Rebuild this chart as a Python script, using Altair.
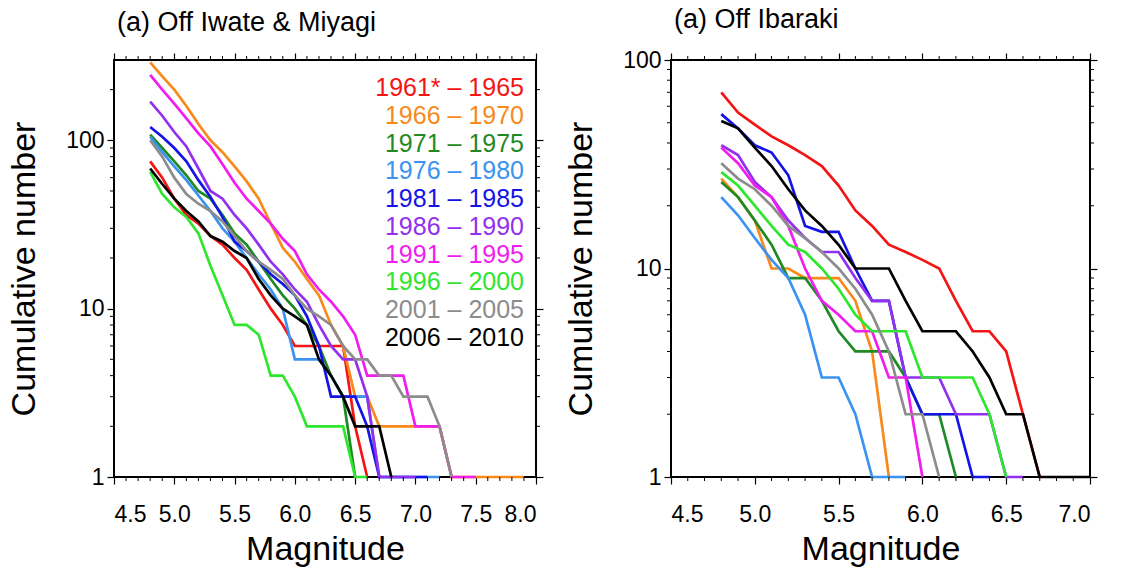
import altair as alt
import pandas as pd

FONT = "Liberation Sans"

# Magnitude grid (lower bound of each cumulative count)
MAG = [4.8, 4.9, 5.0, 5.1, 5.2, 5.3, 5.4, 5.5, 5.6, 5.7, 5.8, 5.9,
       6.0, 6.1, 6.2, 6.3, 6.4, 6.5, 6.6, 6.7, 6.8, 6.9, 7.0, 7.1,
       7.2, 7.3, 7.4, 7.5, 7.6, 7.7, 7.8, 7.9]

PERIODS = ["1961* – 1965", "1966 – 1970", "1971 – 1975", "1976 – 1980",
           "1981 – 1985", "1986 – 1990", "1991 – 1995", "1996 – 2000",
           "2001 – 2005", "2006 – 2010"]
COLORS = ["#f51414", "#f88a1c", "#1f8a24", "#3a93f0", "#1414e6",
          "#9230ee", "#f01cf0", "#2ee62e", "#8c8c8c", "#000000"]

# Off Iwate & Miyagi: cumulative number N(>=M), starting at M = 4.8
iw_1961 = [75, 60, 45, 36, 32, 27, 24, 20, 17, 13, 10, 8, 6, 6, 6, 6, 6, 2, 1]
iw_1966 = [290, 240, 200, 160, 125, 100, 85, 70, 57, 45, 32, 23, 19, 15, 12, 8,
           6, 3, 3, 2, 2, 2, 2, 2, 2, 1, 1, 1, 1, 1, 1, 1]
iw_1971 = [108, 90, 75, 62, 50, 45, 36, 28, 24, 19, 15, 12, 10, 8, 6, 4, 3, 1]
iw_1976 = [105, 85, 70, 58, 47, 38, 30, 25, 20, 16, 13, 10, 5, 5, 5, 4, 3, 3,
           3, 1, 1, 1, 1, 1, 1]
iw_1981 = [120, 105, 90, 75, 58, 46, 35, 25, 22, 19, 16, 14, 12, 9, 6, 3, 3, 3,
           2, 1, 1, 1, 1, 1]
iw_1986 = [170, 140, 112, 92, 68, 50, 45, 36, 30, 24, 19, 16, 13, 11, 8, 6, 5,
           5, 3, 1, 1, 1, 1]
iw_1991 = [245, 200, 165, 135, 110, 92, 72, 56, 45, 38, 32, 26, 22, 16, 13, 11,
           9, 7, 4, 4, 4, 4, 2, 2, 2, 1, 1, 1]
iw_1996 = [65, 48, 40, 35, 28, 18, 12, 8, 8, 7, 4, 4, 3, 2, 2, 2, 2, 1, 1]
iw_2001 = [100, 80, 60, 48, 42, 38, 33, 27, 22, 19, 17, 15, 12, 10, 9, 8, 6, 5,
           5, 4, 4, 3, 3, 3, 2, 1]
iw_2006 = [68, 55, 45, 38, 33, 27, 25, 22, 20, 15, 12, 10, 9, 8, 5, 4, 3, 2, 2,
           2, 1]

# Off Ibaraki
ib_1961 = [70, 56, 49, 43, 39, 35, 31, 25, 19, 16, 13, 12, 11, 10, 7, 5, 5, 4,
           2, 1]
ib_1966 = [27, 22, 17, 10, 10, 9, 9, 9, 7, 4, 1]
ib_1971 = [26, 22, 17, 13, 9, 9, 7, 5, 4, 4, 4, 3, 2, 2, 1]
ib_1976 = [22, 18, 14, 11, 9, 6, 3, 3, 2, 1, 1, 1]
ib_1981 = [55, 47, 39, 36, 28, 16, 15, 15, 10, 7, 7, 3, 2, 2, 2, 1, 1]
ib_1986 = [39, 35, 26, 22, 17, 14, 12, 12, 9, 7, 7, 3, 3, 3, 2, 2, 2, 1, 1]
ib_1991 = [38, 32, 25, 22, 16, 10, 7, 6, 5, 5, 3, 3, 1]
ib_1996 = [29, 25, 20, 16, 13, 12, 10, 8, 6, 5, 5, 5, 3, 3, 3, 3, 2, 1]
ib_2001 = [32, 27, 24, 20, 16, 14, 12, 10, 8, 6, 4, 2, 2, 1]
ib_2006 = [51, 47, 38, 31, 24, 19, 16, 13, 10, 10, 10, 7, 5, 5, 5, 4, 3, 2, 2,
           1, 1, 1, 1]

IWATE = [iw_1961, iw_1966, iw_1971, iw_1976, iw_1981,
         iw_1986, iw_1991, iw_1996, iw_2001, iw_2006]
IBARAKI = [ib_1961, ib_1966, ib_1971, ib_1976, ib_1981,
           ib_1986, ib_1991, ib_1996, ib_2001, ib_2006]

X_MAJOR_L = [4.5, 5.0, 5.5, 6.0, 6.5, 7.0, 7.5, 8.0]
X_MAJOR_R = [4.5, 5.0, 5.5, 6.0, 6.5, 7.0]
X_MINOR_L = [4.6, 4.7, 4.8, 4.9, 5.1, 5.2, 5.3, 5.4, 5.6, 5.7, 5.8, 5.9,
             6.1, 6.2, 6.3, 6.4, 6.6, 6.7, 6.8, 6.9, 7.1, 7.2, 7.3, 7.4,
             7.6, 7.7, 7.8, 7.9]
X_MINOR_R = [4.6, 4.7, 4.8, 4.9, 5.1, 5.2, 5.3, 5.4, 5.6, 5.7, 5.8, 5.9,
             6.1, 6.2, 6.3, 6.4, 6.6, 6.7, 6.8, 6.9]
Y_MAJOR = [1, 10, 100]
Y_MINOR_L = [2, 3, 4, 5, 6, 7, 8, 9, 20, 30, 40, 50, 60, 70, 80, 90, 200]
Y_MINOR_R = [2, 3, 4, 5, 6, 7, 8, 9, 20, 30, 40, 50, 60, 70, 80, 90]


def to_table(series):
    rows = []
    for period, counts in zip(PERIODS, series):
        for m, n in zip(MAG, counts):
            rows.append({"period": period, "M": m, "N": n})
    return pd.DataFrame(rows)


color = alt.Color("period:N", scale=alt.Scale(domain=PERIODS, range=COLORS),
                  legend=None)


def panel(series, title, x_max, y_max, x_major, x_minor, y_minor, width,
          height, with_key=False):
    xs = alt.Scale(domain=[4.5, x_max], nice=False, zero=False)
    ys = alt.Scale(type="log", domain=[1, y_max], nice=False)

    lines = alt.Chart(to_table(series)).mark_line(strokeWidth=2.7).encode(
        x=alt.X("M:Q", scale=xs, axis=alt.Axis(
            orient="bottom", values=x_major, format=".1f", title="Magnitude",
            tickSize=7, labelPadding=19, titlePadding=6)),
        y=alt.Y("N:Q", scale=ys, axis=alt.Axis(
            orient="left", values=Y_MAJOR, format="d",
            title="Cumulative number", tickSize=7, labelPadding=3,
            titlePadding=24)),
        color=color,
    )

    xminor = pd.DataFrame({"v": x_minor})
    yminor = pd.DataFrame({"v": y_minor})

    top = alt.Chart(xminor).mark_rule(color="black", strokeWidth=1).encode(
        x=alt.X("v:Q", scale=xs, axis=alt.Axis(
            orient="top", values=x_major, labels=False, title=None,
            tickSize=7)),
        y=alt.value(0), y2=alt.value(-4))
    bottom = alt.Chart(xminor).mark_rule(color="black", strokeWidth=1).encode(
        x=alt.X("v:Q", scale=xs, axis=None),
        y=alt.value(height), y2=alt.value(height + 4))
    left = alt.Chart(yminor).mark_rule(color="black", strokeWidth=1).encode(
        y=alt.Y("v:Q", scale=ys, axis=None),
        x=alt.value(0), x2=alt.value(-4))
    right = alt.Chart(yminor).mark_rule(color="black", strokeWidth=1).encode(
        y=alt.Y("v:Q", scale=ys, axis=alt.Axis(
            orient="right", values=Y_MAJOR, labels=False, title=None,
            tickSize=7)),
        x=alt.value(width), x2=alt.value(width + 4))

    layers = [lines, top, bottom, left, right]
    if with_key:
        key = alt.Chart(pd.DataFrame({"period": PERIODS,
                                      "row": list(range(len(PERIODS)))})
                        ).mark_text(align="right", baseline="middle",
                                    fontSize=25, font=FONT).encode(
            x=alt.value(410),
            y=alt.Y("row:Q", scale=alt.Scale(domain=[0, 9], range=[28, 278]),
                    axis=None),
            text="period:N",
            color=color,
        )
        layers.append(key)

    return alt.layer(*layers).resolve_scale(y="independent").properties(
        width=width, height=height,
        title=alt.TitleParams(title, anchor="start", frame="group", dx=3,
                              fontSize=27, fontWeight="normal", font=FONT,
                              offset=15, color="black"))


left_panel = panel(IWATE, "(a) Off Iwate & Miyagi", 8.0, 300, X_MAJOR_L,
                   X_MINOR_L, Y_MINOR_L, 422, 417, with_key=True)
right_panel = panel(IBARAKI, "(a) Off Ibaraki", 7.0, 100, X_MAJOR_R,
                    X_MINOR_R, Y_MINOR_R, 419, 417)

chart = alt.hconcat(left_panel, right_panel, spacing=18).properties(
    padding={"left": 6, "top": 5, "right": 5, "bottom": 2},
    background="white",
).configure_view(
    stroke="black", strokeWidth=2
).configure_axis(
    grid=False, domain=False, tickColor="black", tickWidth=1.2,
    labelFont=FONT, titleFont=FONT, labelFontSize=23, titleFontSize=34,
    titleFontWeight="normal", labelColor="black", titleColor="black"
)

chart.save("out.html", embed_options={"renderer": "svg", "actions": False})
